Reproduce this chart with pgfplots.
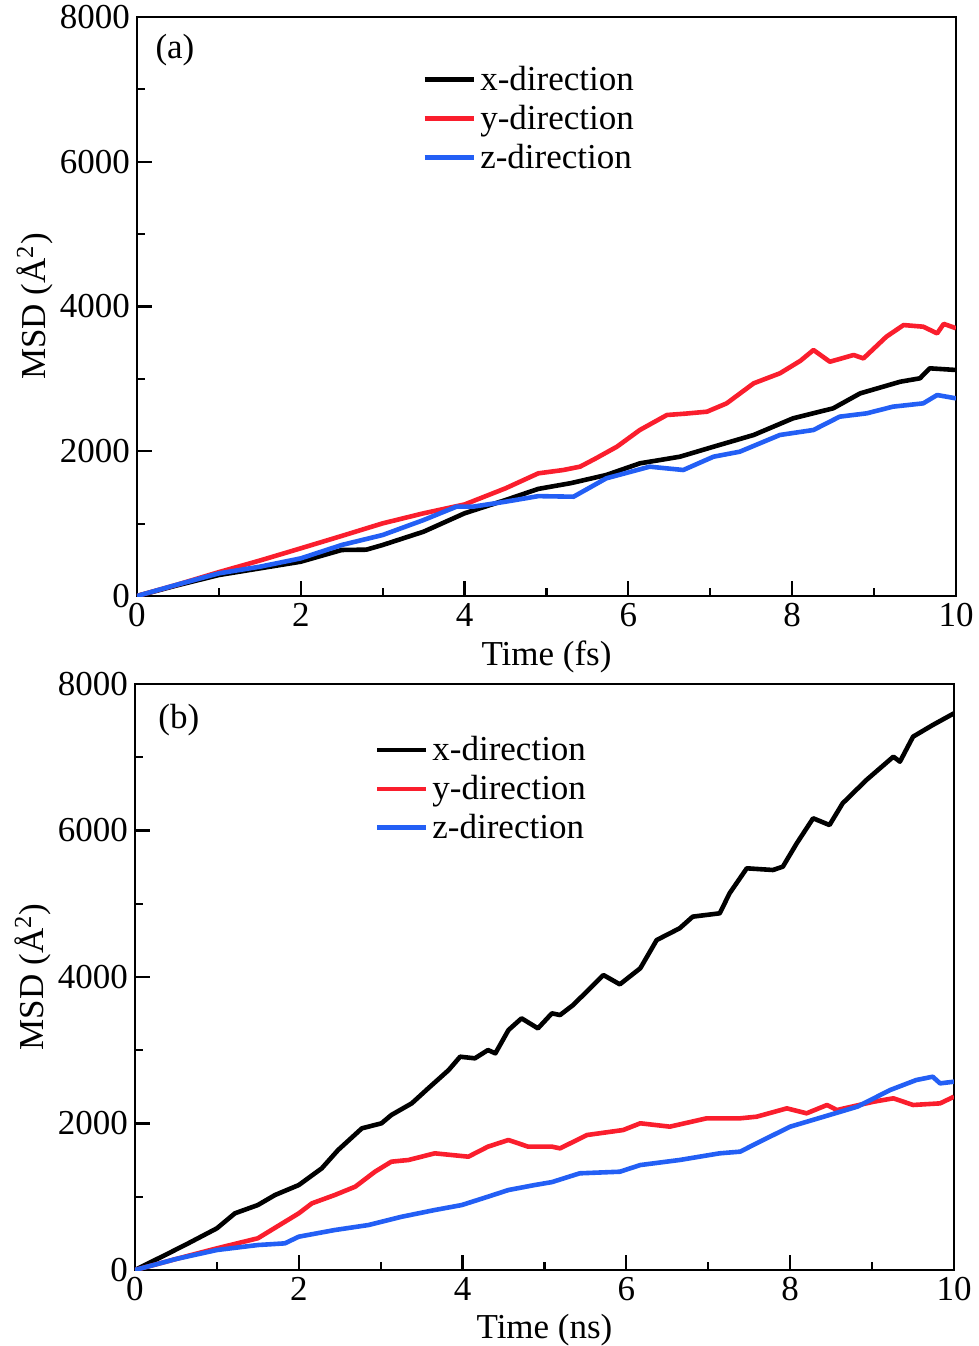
\documentclass[border=0pt]{standalone}
\usepackage{pgfplots}
\pgfplotsset{compat=1.18}
\usepackage{fontspec}
\setmainfont{Liberation Serif}
\definecolor{cred}{RGB}{250,30,45}
\definecolor{cblue}{RGB}{35,95,245}
\pgfplotsset{
  msd/.style={
    scale only axis,
    width=409.5pt,
    xmin=0, xmax=10, ymin=0, ymax=8000,
    xtick={0,2,4,6,8,10},
    ytick={0,2000,4000,6000,8000},
    minor x tick num=1, minor y tick num=1,
    xtick pos=bottom, ytick pos=left,
    tick align=inside,
    major tick length=7.5pt, minor tick length=4pt,
    every tick/.style={line width=1.1pt, black},
    axis line style={line width=1.1pt},
    /pgf/number format/assume math mode=true,
    scaled y ticks=false,
    yticklabel style={/pgf/number format/1000 sep={}},
    tick label style={font=\fontsize{17.5}{20}\selectfont},
    label style={font=\fontsize{17.5}{20}\selectfont},
    ylabel={MSD (Å\textsuperscript{2})},
    ylabel shift=-3.5pt,
    legend cell align=left,
    legend style={draw=none, fill=none, font=\fontsize{17.5}{20}\selectfont, row sep=1.8pt},
    legend image code/.code={\draw[#1] (0pt,0pt) -- (18.5pt,0pt); \path (0pt,0pt) -- (24.5pt,0pt);},
    every axis plot/.append style={line width=2.3pt, line join=round},
  }
}
\begin{document}
\begin{tikzpicture}
\useasboundingbox (-68.5pt,298pt) rectangle (421pt,-375pt);
\begin{axis}[msd, height=289.5pt, at={(0pt,0pt)}, anchor=south west,
  xlabel={Time (fs)},
  legend style={at={(0.341,0.93)}, anchor=north west}]
\addplot[black] coordinates {(0,0) (0.5,150) (1,290) (1.5,382) (2,474) (2.5,636) (2.8,640) (3,705) (3.5,889) (4,1143) (4.5,1326) (4.9,1480) (5.3,1560) (5.73,1672) (6.14,1833) (6.63,1925) (7.04,2063) (7.53,2225) (8.01,2455) (8.5,2593) (8.83,2800) (9.32,2961) (9.56,3008) (9.68,3146) (10,3123)};
\addlegendentry{x-direction}
\addplot[cred] coordinates {(0,0) (0.5,160) (1,330) (1.5,490) (2,659) (2.5,830) (3,1004) (3.5,1143) (4,1265) (4.5,1488) (4.9,1695) (5.2,1740) (5.41,1787) (5.6,1900) (5.86,2063) (6.14,2294) (6.47,2501) (6.7,2520) (6.96,2547) (7.2,2662) (7.53,2939) (7.85,3077) (8.1,3250) (8.26,3399) (8.46,3237) (8.75,3330) (8.87,3283) (9.15,3583) (9.36,3744) (9.6,3721) (9.77,3629) (9.85,3760) (10,3700)};
\addlegendentry{y-direction}
\addplot[cblue] coordinates {(0,0) (0.5,160) (1,313) (1.5,405) (2,520) (2.5,705) (3,843) (3.5,1050) (3.9,1234) (4.1,1234) (4.5,1303) (4.9,1380) (5.33,1372) (5.73,1626) (6.26,1787) (6.67,1741) (7.04,1925) (7.36,1994) (7.85,2225) (8.26,2294) (8.58,2478) (8.91,2524) (9.23,2616) (9.6,2662) (9.77,2777) (10,2731)};
\addlegendentry{z-direction}
\node[anchor=west, font=\fontsize{17.5}{20}\selectfont] at (rel axis cs:0.014,0.943) {(a)};
\end{axis}
\begin{axis}[msd, height=293pt, at={(-1pt,-337pt)}, anchor=south west,
  xlabel={Time (ns)},
  legend style={at={(0.285,0.925)}, anchor=north west}]
\addplot[black] coordinates {(0,0) (0.41,228) (0.65,364) (1,569) (1.22,774) (1.5,887) (1.71,1024) (2,1160) (2.28,1388) (2.48,1638) (2.77,1934) (3.01,2003) (3.13,2116) (3.38,2276) (3.58,2480) (3.83,2730) (3.97,2912) (4.15,2890) (4.31,3003) (4.4,2958) (4.56,3276) (4.72,3436) (4.92,3299) (5.09,3504) (5.19,3481) (5.35,3618) (5.72,4027) (5.92,3900) (6.17,4120) (6.37,4505) (6.65,4665) (6.81,4824) (7.14,4870) (7.26,5143) (7.47,5484) (7.79,5461) (7.91,5506) (8.08,5825) (8.28,6167) (8.48,6075) (8.64,6371) (8.93,6689) (9.26,7008) (9.34,6940) (9.5,7281) (9.74,7440) (10,7600)};
\addlegendentry{x-direction}
\addplot[cred] coordinates {(0,0) (0.5,150) (1,296) (1.5,433) (2,774) (2.16,910) (2.44,1024) (2.69,1138) (2.93,1342) (3.13,1479) (3.34,1502) (3.66,1593) (4.07,1547) (4.31,1684) (4.56,1775) (4.8,1684) (5.09,1684) (5.19,1661) (5.52,1843) (5.96,1911) (6.17,2003) (6.53,1957) (6.98,2071) (7.39,2071) (7.59,2093) (7.96,2207) (8.2,2139) (8.45,2253) (8.57,2184) (9.02,2298) (9.26,2344) (9.5,2253) (9.83,2275) (10,2366)};
\addlegendentry{y-direction}
\addplot[cblue] coordinates {(0,0) (0.5,150) (1,273) (1.5,341) (1.83,364) (2,455) (2.44,546) (2.85,614) (3.26,728) (3.66,819) (3.99,887) (4.31,1001) (4.56,1092) (4.88,1160) (5.09,1200) (5.43,1320) (5.92,1342) (6.17,1433) (6.65,1502) (7.14,1593) (7.39,1616) (7.59,1730) (8.0,1957) (8.41,2093) (8.82,2230) (9.22,2457) (9.54,2594) (9.74,2639) (9.83,2548) (10,2571)};
\addlegendentry{z-direction}
\node[anchor=west, font=\fontsize{17.5}{20}\selectfont] at (rel axis cs:0.02,0.9386) {(b)};
\end{axis}
\end{tikzpicture}
\end{document}
